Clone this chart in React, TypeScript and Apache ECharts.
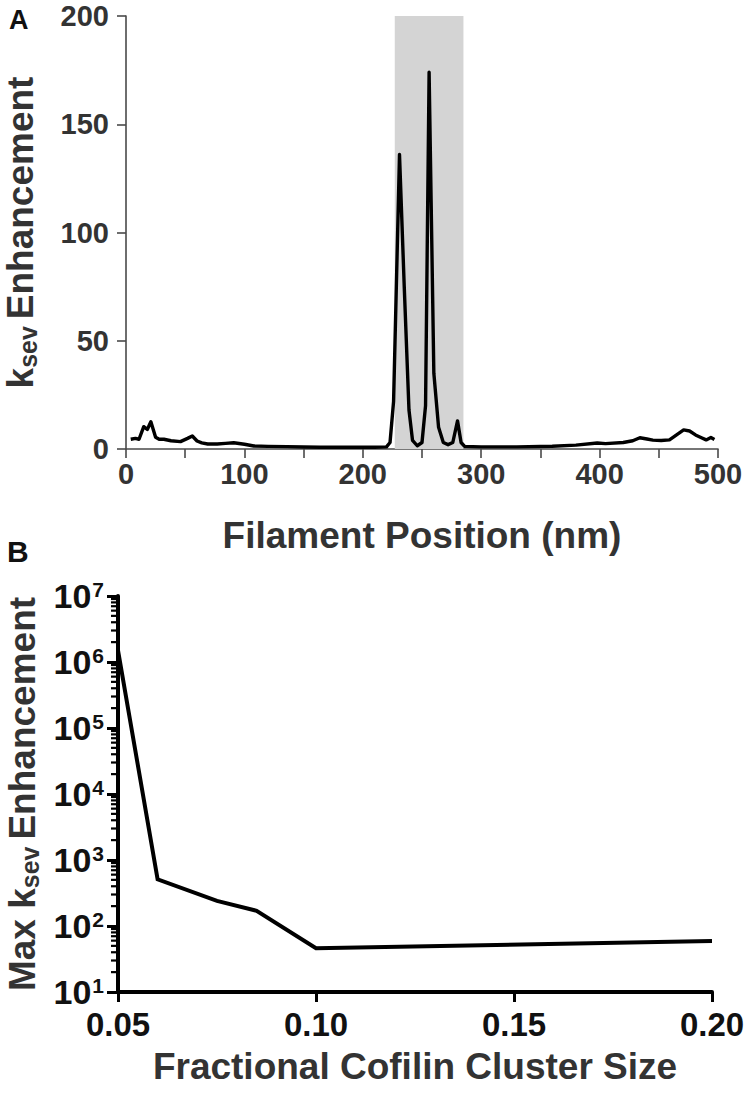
import React, { useEffect, useRef } from "react";
import * as echarts from "echarts";

// ---- Panel A data ----
const positionA = [4, 8, 11, 15, 18, 21, 25, 28, 32, 38, 46, 52, 56, 60, 64, 69, 77, 84, 91, 100, 108, 120, 136, 150, 164, 190, 210, 220, 223, 226, 231, 235, 239, 242, 246, 250, 253, 256, 260, 264, 268, 272, 276, 280, 283, 286, 300, 330, 360, 380, 398, 405, 420, 428, 434, 440, 445, 452, 459, 465, 471, 476, 481, 486, 490, 494, 497];
const ksevA = [4.5, 4.9, 4.5, 10.3, 9, 12.6, 5.4, 4.5, 4.5, 3.8, 3.4, 4.9, 6, 3.7, 2.8, 2.3, 2.3, 2.6, 2.9, 2.2, 1.4, 1.2, 1.1, 0.9, 0.8, 0.8, 0.8, 1.0, 3, 22, 136, 75, 18, 4, 1.5, 3, 20, 174, 35, 10, 3, 2, 3, 13, 3, 1.2, 1.0, 1.0, 1.3, 1.8, 2.8, 2.5, 3.0, 3.8, 5.2, 4.6, 4.1, 3.9, 4.2, 6.5, 8.8, 8.3, 6.5, 5.2, 4.2, 5.3, 4.4];
const clusterBand = [227, 285];
const yTicksA = [0, 50, 100, 150, 200];

// ---- Panel B data ----
const clusterSizeB = [0.05, 0.06, 0.075, 0.085, 0.1, 0.2];
const maxKsevB = [1.5e6, 510, 240, 170, 46, 59];
const xTicksB = [0.05, 0.1, 0.15, 0.2];
const decadesB = [10, 100, 1000, 10000, 100000, 1000000];
const minorMultipliers = [2, 3, 4, 5, 6, 7, 8, 9];

const FONT = "'Liberation Sans', Arial, Helvetica, sans-serif";
const GRAY = "#333333";

export default function App() {
  const ref = useRef<HTMLDivElement>(null);

  useEffect(() => {
    if (!ref.current) return;
    const chart = echarts.init(ref.current, undefined, { renderer: "svg" });

    const lineA = positionA.map((x, i) => [x, ksevA[i]]);
    const lineB = clusterSizeB.map((x, i) => [x, maxKsevB[i]]);
    const minorTicks: number[][] = [];
    decadesB.forEach((d) => minorMultipliers.forEach((m) => minorTicks.push([xTicksB[0], d * m])));

    const titleRich = {
      k: { fontSize: 37, fontWeight: "bold", color: GRAY, fontFamily: FONT, lineHeight: 40 },
      s: { fontSize: 25, fontWeight: "bold", color: GRAY, fontFamily: FONT, verticalAlign: "bottom", lineHeight: 40, padding: [14, 0, 0, 0] },
      e: { fontSize: 37, fontWeight: "bold", color: GRAY, fontFamily: FONT, lineHeight: 40 },
    };

    const option: any = {
      animation: false,
      textStyle: { fontFamily: FONT },
      graphic: [
        { type: "text", left: 9, top: 6, style: { text: "A", font: `bold 27px ${FONT}`, fill: "#111" } },
        { type: "text", left: 7, top: 536, style: { text: "B", font: `bold 30px ${FONT}`, fill: "#111" } },
      ],
      grid: [
        { left: 126, top: 16, width: 592, height: 433, outerBoundsMode: "none", containLabel: false },
        { left: 118, top: 596, width: 594, height: 396, outerBoundsMode: "none", containLabel: false },
      ],
      xAxis: [
        {
          gridIndex: 0,
          type: "value",
          min: 0,
          max: 500,
          interval: 50,
          splitLine: { show: false },
          axisLine: { show: true, lineStyle: { color: "#4a4a4a", width: 1.6 } },
          axisTick: { show: true, length: 9, lineStyle: { color: "#4a4a4a", width: 1.6 } },
          axisLabel: {
            margin: 10,
            color: GRAY,
            fontSize: 29,
            fontWeight: "bold",
            fontFamily: FONT,
            formatter: (v: number) => (v % 100 === 0 ? String(v) : ""),
          },
          name: "Filament Position (nm)",
          nameLocation: "middle",
          nameGap: 68,
          nameTextStyle: { color: GRAY, fontSize: 37, fontWeight: "bold", fontFamily: FONT },
        },
        {
          gridIndex: 1,
          type: "value",
          min: 0.05,
          max: 0.2,
          interval: 0.05,
          splitLine: { show: false },
          axisLine: { show: true, onZero: false, lineStyle: { color: "#000", width: 4 } },
          axisTick: { show: true, length: 10, lineStyle: { color: "#000", width: 3 } },
          axisLabel: {
            margin: 16,
            color: "#111",
            fontSize: 33,
            fontWeight: "bold",
            fontFamily: FONT,
            formatter: (v: number) => v.toFixed(2),
          },
          name: "Fractional Cofilin Cluster Size",
          nameLocation: "middle",
          nameGap: 56,
          nameTextStyle: { color: GRAY, fontSize: 37, fontWeight: "bold", fontFamily: FONT },
        },
      ],
      yAxis: [
        {
          gridIndex: 0,
          type: "value",
          min: yTicksA[0],
          max: yTicksA[yTicksA.length - 1],
          interval: 50,
          splitLine: { show: false },
          axisLine: { show: true, lineStyle: { color: "#4a4a4a", width: 1.6 } },
          axisTick: { show: true, length: 9, lineStyle: { color: "#4a4a4a", width: 1.6 } },
          axisLabel: { margin: 17, color: GRAY, fontSize: 29, fontWeight: "bold", fontFamily: FONT },
          name: "{k|k}{s|sev }{e|Enhancement}",
          nameLocation: "middle",
          nameGap: 86,
          nameRotate: 90,
          nameTextStyle: { color: GRAY, fontWeight: "bold", fontFamily: FONT, rich: titleRich },
        },
        {
          gridIndex: 1,
          type: "log",
          logBase: 10,
          min: 10,
          max: 1e7,
          splitLine: { show: false },
          axisLine: { show: true, onZero: false, lineStyle: { color: "#000", width: 4 } },
          axisTick: { show: true, length: 11, lineStyle: { color: "#000", width: 3 } },
          axisLabel: {
            margin: 14,
            formatter: (v: number) => `{b|10}{p|${Math.round(Math.log10(v))}}`,
            rich: {
              b: { fontSize: 34, fontWeight: "bold", color: "#111", fontFamily: FONT, lineHeight: 34 },
              p: { fontSize: 21, fontWeight: "bold", color: "#111", fontFamily: FONT, verticalAlign: "top", lineHeight: 34, padding: [0, 0, 14, 1] },
            },
          },
          name: "Max {k|k}{s|sev }{e|Enhancement}",
          nameLocation: "middle",
          nameGap: 74,
          nameRotate: 90,
          nameTextStyle: { color: GRAY, fontSize: 37, fontWeight: "bold", fontFamily: FONT, rich: titleRich },
        },
      ],
      series: [
        {
          type: "line",
          xAxisIndex: 0,
          yAxisIndex: 0,
          data: lineA,
          showSymbol: false,
          symbol: "none",
          lineStyle: { color: "#000", width: 3.4, join: "round" },
          z: 3,
          markArea: {
            silent: true,
            itemStyle: { color: "#d4d4d4" },
            data: [[{ xAxis: clusterBand[0] }, { xAxis: clusterBand[1] }]],
          },
        },
        {
          type: "line",
          xAxisIndex: 1,
          yAxisIndex: 1,
          data: lineB,
          showSymbol: false,
          symbol: "none",
          lineStyle: { color: "#000", width: 4, join: "miter" },
          z: 3,
        },
        {
          type: "custom",
          xAxisIndex: 1,
          yAxisIndex: 1,
          data: minorTicks,
          clip: false,
          silent: true,
          z: 4,
          renderItem: (params: any, api: any) => {
            const p = api.coord([api.value(0), api.value(1)]);
            return {
              type: "line",
              shape: { x1: p[0] - 7, y1: p[1], x2: p[0], y2: p[1] },
              style: { stroke: "#000", lineWidth: 2.2 },
            };
          },
        },
      ],
    };

    chart.setOption(option);
    return () => chart.dispose();
  }, []);

  return (
    <div
      ref={ref}
      style={{ position: "absolute", left: 0, top: 0, width: 747, height: 1094, background: "#fff" }}
    />
  );
}
